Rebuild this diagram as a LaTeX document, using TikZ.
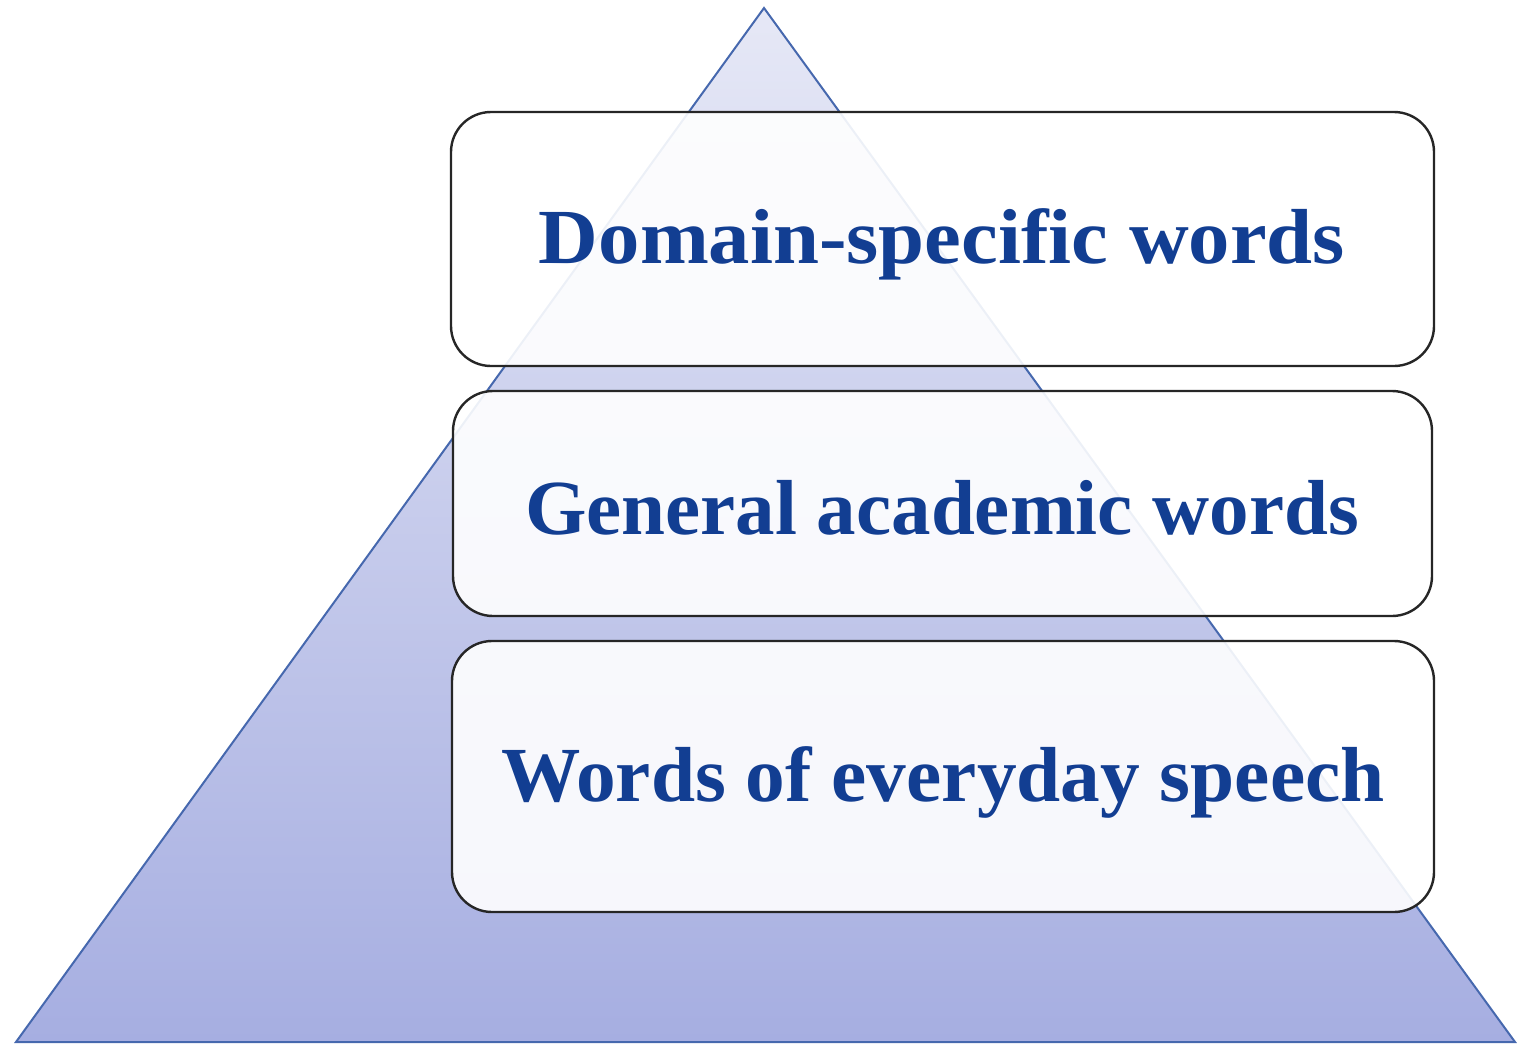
\documentclass[tikz,border=0pt]{standalone}
\usepackage{fontspec}
\usepackage{graphicx}
\setmainfont{Liberation Serif}
\begin{document}
\begin{tikzpicture}[x=1pt,y=-1pt,
  tier/.style={draw=black!85, line width=2.4pt, rounded corners=40pt,
    fill=white, fill opacity=0.9, text opacity=1},
  label/.style={text=wordblue, font=\bfseries\fontsize{78}{90}\selectfont, inner sep=0pt}]
\definecolor{wordblue}{HTML}{123E92}
\definecolor{pyrtop}{HTML}{E6E8F6}
\definecolor{pyrbot}{HTML}{A6AEE1}
\definecolor{pyredge}{HTML}{4668AE}
\useasboundingbox (0,0) rectangle (1518,1044);
% pyramid
\coordinate (apex) at (764,8);
\coordinate (bl) at (16,1042);
\coordinate (br) at (1515,1042);
\shade[top color=pyrtop, bottom color=pyrbot] (apex) -- (br) -- (bl) -- cycle;
\draw[pyredge, line width=2pt, line join=miter] (apex) -- (br) -- (bl) -- cycle;
% tiers
\draw[tier] (451,112) rectangle (1434,366);
\draw[tier] (453,391) rectangle (1432,616);
\draw[tier] (452,641) rectangle (1434,912);
\node[label] (t1) at (942,244) {\scalebox{1.06}[1]{Domain-specific words}};
\node[label] (t2) at (942,508) {\scalebox{1.013}[1]{General academic words}};
\node[label] (t3) at (943,782) {\scalebox{1.017}[1]{Words of everyday speech}};
\end{tikzpicture}
\end{document}
